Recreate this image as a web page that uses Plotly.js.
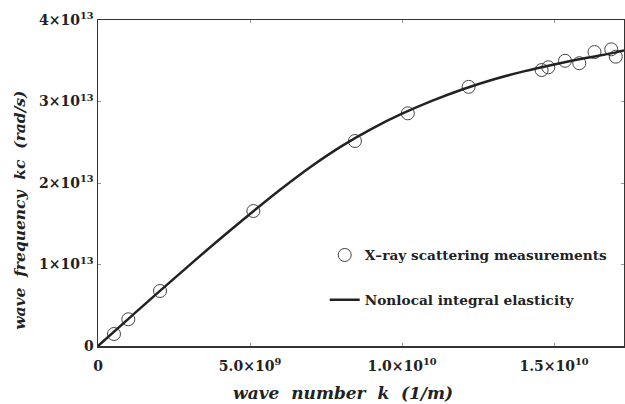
<!DOCTYPE html>
<html>
<head>
<meta charset="utf-8">
<script src="https://cdn.plot.ly/plotly-3.0.1.min.js"></script>
<style>html,body{margin:0;padding:0;background:#fff;}#chart{width:625px;height:404px;}</style>
</head>
<body>
<div id="chart"></div>
<script>
// X-ray scattering measurements (wave number k in 1/m, wave frequency kc in rad/s)
const measK = [0.526e9, 0.997e9, 2.04e9, 5.11e9, 8.45e9, 10.19e9, 12.19e9, 14.59e9, 14.81e9, 15.36e9, 15.83e9, 16.33e9, 16.88e9, 17.03e9];
const measW = [0.147e13, 0.328e13, 0.675e13, 1.656e13, 2.515e13, 2.855e13, 3.18e13, 3.386e13, 3.42e13, 3.50e13, 3.47e13, 3.607e13, 3.64e13, 3.55e13];

// Nonlocal integral elasticity curve
const curveK = [0, 1e9, 2e9, 3e9, 4e9, 5e9, 6e9, 7e9, 8e9, 9e9, 10e9, 11e9, 12e9, 13e9, 14e9, 15e9, 16e9, 17e9, 17.3e9];
const curveW = [0, 0.333e13, 0.664e13, 0.99e13, 1.31e13, 1.62e13, 1.92e13, 2.2e13, 2.45e13, 2.665e13, 2.85e13, 3.01e13, 3.15e13, 3.27e13, 3.37e13, 3.455e13, 3.53e13, 3.6e13, 3.625e13];

const xTickVals = [0, 5e9, 1e10, 1.5e10];
const xTickText = ['<b>0</b>', '<b>5.0×10<sup>9</sup></b>', '<b>1.0×10<sup>10</sup></b>', '<b>1.5×10<sup>10</sup></b>'];
const yTickVals = [0, 1e13, 2e13, 3e13, 4e13];
const yTickText = ['<b>0</b>', '<b>1×10<sup>13</sup></b>', '<b>2×10<sup>13</sup></b>', '<b>3×10<sup>13</sup></b>', '<b>4×10<sup>13</sup></b>'];

const xTitle = '<b><i>wave  number  k  (1/m)</i></b>';
const yTitle = '<b><i>wave  frequency  kc  (rad/s)</i></b>';

const serif = 'DejaVu Serif';

const traces = [
  {
    x: measK, y: measW, type: 'scatter', mode: 'markers',
    name: '<b>X–ray scattering measurements</b>', legendgroup: 'a',
    marker: {symbol: 'circle-open', size: 13, color: '#444', line: {width: 1, color: '#444'}},
    cliponaxis: false
  },
  {
    x: curveK, y: curveW, type: 'scatter', mode: 'lines',
    name: '<b>Nonlocal integral elasticity</b>', legendgroup: 'b',
    line: {color: '#222', width: 2.5, shape: 'spline', smoothing: 1}
  }
];

const layout = {
  width: 625, height: 404,
  margin: {l: 98, r: 1, t: 20, b: 58},
  paper_bgcolor: '#fff', plot_bgcolor: '#fff',
  font: {family: serif},
  showlegend: true,
  legend: {
    x: 0.431, y: 0.21, xanchor: 'left', yanchor: 'middle',
    bgcolor: 'rgba(0,0,0,0)', borderwidth: 0,
    font: {family: serif, size: 13.7, color: '#222'},
    traceorder: 'grouped', tracegroupgap: 24
  },
  xaxis: {
    range: [0, 17.3e9], tickvals: xTickVals, ticktext: xTickText,
    showgrid: false, zeroline: false, showline: true, mirror: 'ticks',
    linecolor: '#333', linewidth: 1.5, ticks: 'inside', ticklen: 3, tickcolor: '#999',
    ticklabelstandoff: 7,
    tickfont: {family: serif, size: 14, color: '#222'}
  },
  yaxis: {
    range: [0, 4e13], tickvals: yTickVals, ticktext: yTickText,
    showgrid: false, zeroline: false, showline: true, mirror: 'ticks',
    linecolor: '#333', linewidth: 1.5, ticks: 'inside', ticklen: 3, tickcolor: '#999',
    tickfont: {family: serif, size: 14, color: '#222'}
  },
  annotations: [
    {
      text: xTitle, xref: 'paper', yref: 'paper',
      x: 0.465, y: -0.145, xanchor: 'center', yanchor: 'middle',
      showarrow: false,
      font: {family: serif, size: 17, color: '#222'}
    },
    {
      text: yTitle, xref: 'paper', yref: 'paper',
      x: -0.148, y: 0.415, xanchor: 'center', yanchor: 'middle',
      textangle: -90, showarrow: false,
      font: {family: serif, size: 15.5, color: '#222'}
    }
  ]
};

Plotly.newPlot('chart', traces, layout, {displayModeBar: false, staticPlot: true});
</script>
</body>
</html>
